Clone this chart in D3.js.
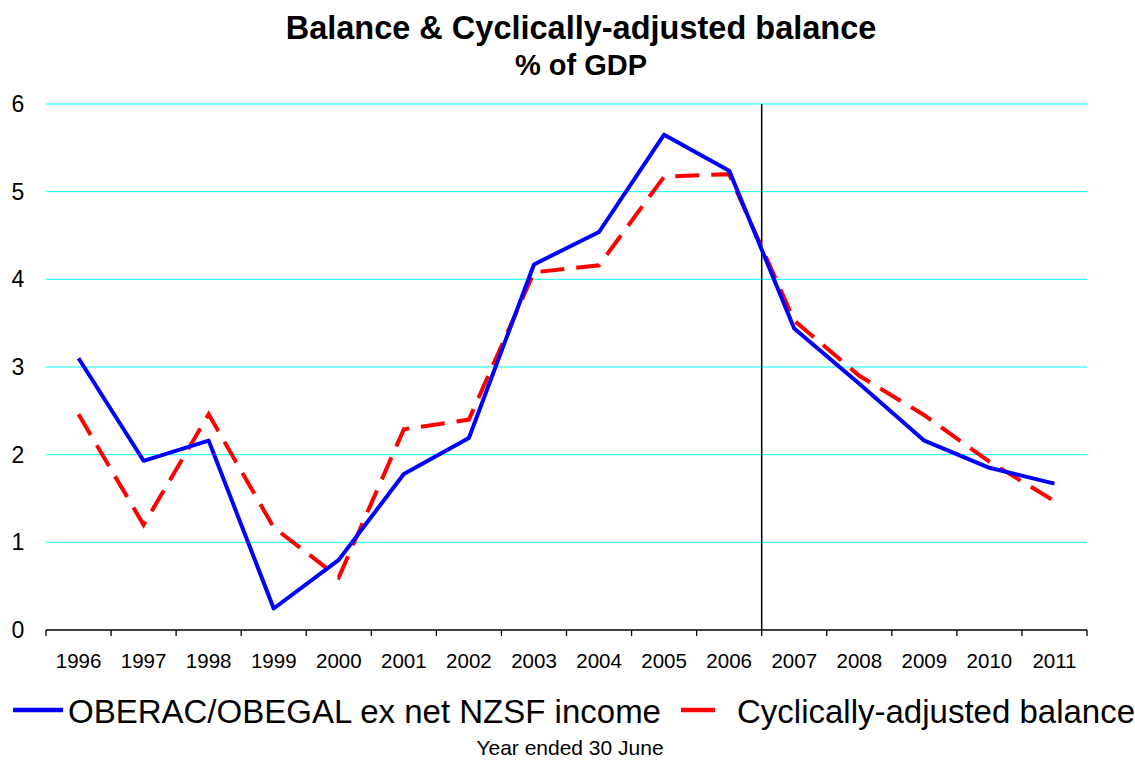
<!DOCTYPE html>
<html><head><meta charset="utf-8">
<script src="https://cdn.jsdelivr.net/npm/d3@7"></script>
<style>body{margin:0;background:#fff}svg{display:block}text{font-family:"Liberation Sans",Arial,sans-serif;fill:#000}</style>
</head><body><svg id="c" width="1135" height="763"></svg>
<script>
const years = ["1996","1997","1998","1999","2000","2001","2002","2003","2004","2005","2006","2007","2008","2009","2010","2011"];
const balance = [3.1,1.93,2.16,0.245,0.8,1.78,2.19,4.17,4.54,5.65,5.24,3.44,2.81,2.16,1.85,1.67];
const cyclAdj = [2.46,1.2,2.46,1.17,0.6,2.29,2.4,4.08,4.16,5.17,5.2,3.53,2.9,2.45,1.92,1.47];
const yTicks = [0,1,2,3,4,5,6];
const seriesNames = ["OBERAC/OBEGAL ex net NZSF income","Cyclically-adjusted balance"];
const dividerAfter = "2006";

const svg = d3.select("#c");
const L=46,R=1087,T=104,B=630;
const x = d3.scaleBand().domain(years).range([L,R]);
const y = d3.scaleLinear().domain([0,6]).range([B,T]);

// gridlines
svg.append("g").selectAll("line").data(yTicks.filter(d=>d>0)).join("line")
  .attr("x1",L).attr("x2",R).attr("y1",d=>y(d)).attr("y2",d=>y(d))
  .attr("stroke","#00FFFF").attr("stroke-width",1);

// y labels
svg.append("g").selectAll("text").data(yTicks).join("text")
  .attr("x",18).attr("y",d=>y(d)+8).attr("text-anchor","middle")
  .style("font-size","23px").text(d=>d);

// x axis
const xa = svg.append("g").attr("transform",`translate(0,${B})`)
  .call(d3.axisBottom(x).tickSize(0).tickPadding(0));
xa.select(".domain").remove();
xa.selectAll("text").attr("y",38).style("font-size","20.5px").style("font-family","Liberation Sans, Arial, sans-serif").attr("fill","#000").attr("dy",null);
svg.append("line").attr("x1",L).attr("x2",R).attr("y1",B).attr("y2",B).attr("stroke","#000").attr("stroke-width",1.3);
const bounds = years.map(d=>x(d)).concat([R]);
svg.append("g").selectAll("line").data(bounds).join("line")
  .attr("x1",d=>d).attr("x2",d=>d).attr("y1",B).attr("y2",B+6)
  .attr("stroke","#000").attr("stroke-width",1.3);

// divider
const dx = x(dividerAfter)+x.bandwidth();
svg.append("line").attr("x1",dx).attr("x2",dx).attr("y1",T).attr("y2",B).attr("stroke","#000").attr("stroke-width",1.5);

const line = d3.line().x((d,i)=>x(years[i])+x.bandwidth()/2).y(d=>y(d));
svg.append("path").datum(cyclAdj).attr("d",line).attr("fill","none")
  .attr("stroke","#FF0000").attr("stroke-width",4).attr("stroke-dasharray","24,12");
svg.append("path").datum(balance).attr("d",line).attr("fill","none")
  .attr("stroke","#0000FF").attr("stroke-width",4).attr("stroke-linejoin","round");

// titles
svg.append("text").attr("x",581).attr("y",39).attr("text-anchor","middle")
  .style("font-size","32.5px").style("font-weight","bold").text("Balance & Cyclically-adjusted balance");
svg.append("text").attr("x",581).attr("y",75).attr("text-anchor","middle")
  .style("font-size","29px").style("font-weight","bold").text("% of GDP");

// legend
const ly=710;
svg.append("line").attr("x1",13).attr("x2",63).attr("y1",ly).attr("y2",ly).attr("stroke","#0000FF").attr("stroke-width",4.5);
svg.append("text").attr("x",68).attr("y",ly+13).style("font-size","33px").text(seriesNames[0]);
svg.append("line").attr("x1",681).attr("x2",715).attr("y1",ly).attr("y2",ly).attr("stroke","#FF0000").attr("stroke-width",4.5);
svg.append("text").attr("x",737).attr("y",ly+13).style("font-size","33px").text(seriesNames[1]);

svg.append("text").attr("x",570).attr("y",755).attr("text-anchor","middle").style("font-size","21px").text("Year ended 30 June");
</script></body></html>
